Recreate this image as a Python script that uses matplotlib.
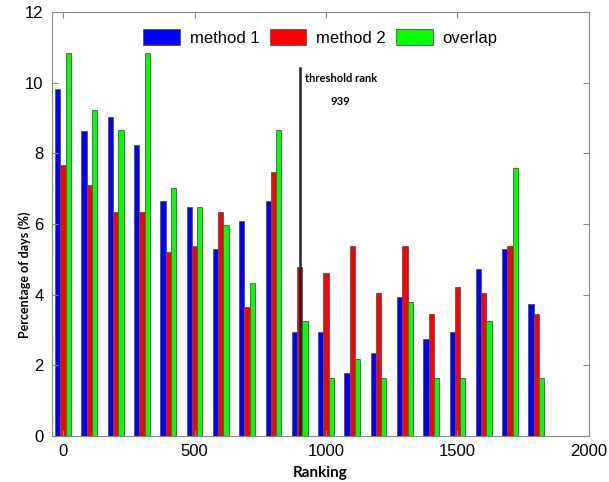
import numpy as np
import matplotlib
matplotlib.use('Agg')
import matplotlib.pyplot as plt

# rank bins and percentages
ranking = np.arange(0, 1900, 100)
method1 = [9.81, 8.62, 9.02, 8.24, 6.66, 6.48, 5.30, 6.09, 6.66, 2.94,
           2.94, 1.77, 2.36, 3.93, 2.75, 2.94, 4.72, 5.30, 3.74]
method2 = [7.68, 7.10, 6.33, 6.33, 5.20, 5.38, 6.33, 3.66, 7.48, 4.79,
           4.62, 5.39, 4.04, 5.39, 3.45, 4.23, 4.04, 5.39, 3.45]
overlap = [10.85, 9.22, 8.67, 10.85, 7.03, 6.49, 5.96, 4.34, 8.67, 3.26,
           1.63, 2.18, 1.63, 3.80, 1.63, 1.63, 3.26, 7.58, 1.63]
threshold_x = 900
threshold_rank = 939

fig = plt.figure(figsize=(6.09, 4.82), dpi=100)
ax = fig.add_axes([0.0854, 0.0954, 0.8817, 0.8797])

w = 20
edge = '#555555'
ax.bar(ranking - w, method1, w, color='#0000ff', edgecolor=edge, linewidth=0.6, label='method 1')
ax.bar(ranking, method2, w, color='#ff0000', edgecolor=edge, linewidth=0.6, label='method 2')
ax.bar(ranking + w, overlap, w, color='#00ff00', edgecolor=edge, linewidth=0.6, label='overlap')

# threshold marker
ax.plot([threshold_x, threshold_x], [0, 10.42], color='#222222', linewidth=1.8)
ax.text(threshold_x + 20, 10.13, 'threshold rank', fontsize=8, fontweight='bold',
        family='Lato', ha='left', va='center')
ax.text(threshold_x + 153, 9.48, str(threshold_rank), fontsize=8, fontweight='bold',
        family='Lato', ha='center', va='center')

ax.set_xlim(-42, 2000)
ax.set_ylim(0, 12)
ax.set_xticks([0, 500, 1000, 1500, 2000])
ax.set_yticks([0, 2, 4, 6, 8, 10, 12])
ax.tick_params(direction='in', top=True, right=True, length=4, color='#888888',
               labelsize=12, pad=6)
for lab in ax.get_xticklabels() + ax.get_yticklabels():
    lab.set_family('Liberation Sans')
for s in ax.spines.values():
    s.set_color('#888888')

ax.set_xlabel('Ranking', fontsize=11, fontweight='bold', family='Lato')
ax.xaxis.set_label_coords(0.5, -0.071)
ax.set_ylabel('Percentage of days (%)', fontsize=9, fontweight='bold', family='Lato')
ax.yaxis.set_label_coords(-0.039, 0.38)

ax.legend(loc='upper center', bbox_to_anchor=(0.5, 0.995), ncol=3, frameon=False,
          prop={'family': 'Liberation Sans', 'size': 12},
          handlelength=2.2, handleheight=1.1, columnspacing=0.6, handletextpad=0.6)

fig.savefig('out.png', dpi=100)
